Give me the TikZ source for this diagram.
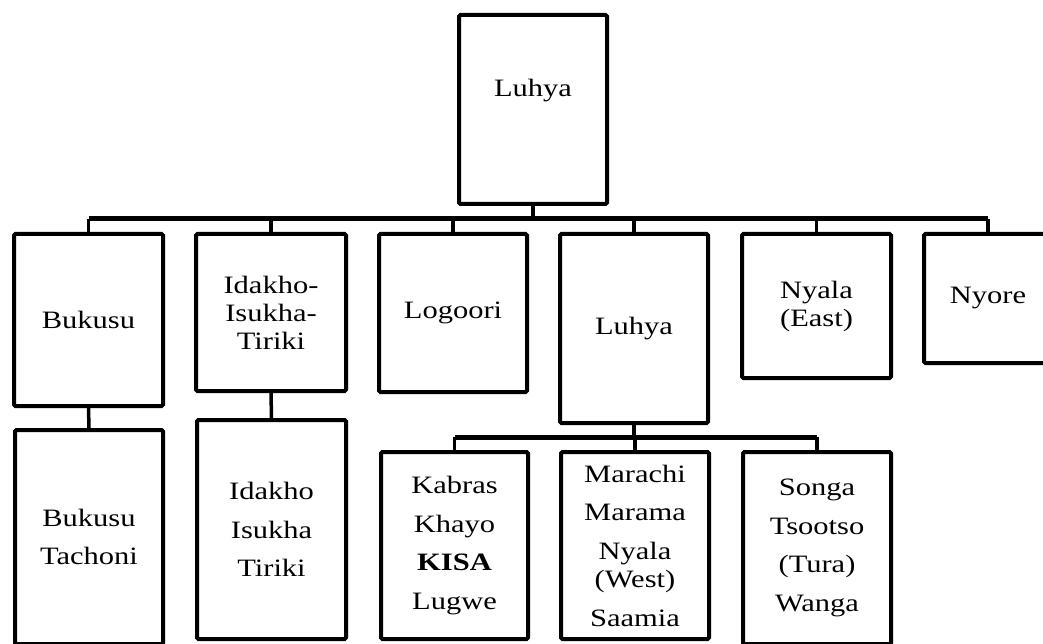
\documentclass[tikz,border=0pt]{standalone}
\usepackage{fontspec}
\setmainfont[FakeStretch=1.22]{Liberation Serif}
\begin{document}
\begin{tikzpicture}[x=1pt,y=-1pt,
  box/.style={draw=black, line width=4pt, rounded corners=1.5pt, align=center, inner sep=0pt, font=\fontsize{25}{28}\selectfont},
  tall/.style={box, font=\fontsize{25}{38.5}\selectfont},
  conn/.style={draw=black, line width=3.5pt},
  busline/.style={draw=black, line width=5pt}]
\useasboundingbox (0,0) rectangle (1043,644);
\clip (0,0) rectangle (1043,644);
% top
\node[box, minimum width=148pt, minimum height=189pt] (top) at (533,109.5) {};
\node[font=\fontsize{25}{28}\selectfont, inner sep=0pt] (toptxt) at (533,91) {Luhya};
% second row
\node[box, minimum width=149pt, minimum height=172pt] (buk) at (88.5,320) {Bukusu};
\node[box, minimum width=150pt, minimum height=157pt] (ida) at (271,312.5) {Idakho-\\Isukha-\\Tiriki};
\node[box, minimum width=148pt, minimum height=158pt] (log) at (453,313) {Logoori};
\node[box, minimum width=148pt, minimum height=189pt] (luh) at (634,328.5) {Luhya};
\node[box, minimum width=149pt, minimum height=144pt] (nya) at (816.5,306) {Nyala\\(East)};
\node[box, minimum width=128pt, minimum height=129pt] (nyo) at (988,298.5) {Nyore};
% third row
\node[tall, minimum width=148pt, minimum height=214pt] (bukc) at (89,537) {Bukusu\\Tachoni};
\node[tall, minimum width=149pt, minimum height=219pt] (idac) at (271.5,529.5) {Idakho\\Isukha\\Tiriki};
\node[tall, minimum width=147pt, minimum height=187pt] (kab) at (454.5,545.5) {Kabras\\Khayo\\\textbf{KISA}\\Lugwe};
\node[tall, minimum width=148pt, minimum height=187pt] (mar) at (635,545.5) {Marachi\\Marama\\Nyala\\[-10pt](West)\\Saamia};
\node[tall, minimum width=148pt, minimum height=192pt] (son) at (817,548) {Songa\\Tsootso\\(Tura)\\Wanga};
% connectors
\coordinate (bus) at (0,219);
\coordinate (sub) at (0,437);
\draw[conn] (top.south) -- (top.south |- bus);
\draw[busline] (buk.north |- bus) -- (nyo.north |- bus);
\foreach \n in {buk,ida,log,luh,nya,nyo} \draw[conn] (\n.north |- bus) -- (\n.north);
\draw[conn] (buk.south) -- (bukc.north);
\draw[conn] (ida.south) -- (idac.north);
\draw[conn] (luh.south) -- (luh.south |- sub);
\draw[busline] (kab.north |- sub) -- (son.north |- sub);
\foreach \n in {kab,mar,son} \draw[conn] (\n.north |- sub) -- (\n.north);
\end{tikzpicture}
\end{document}
